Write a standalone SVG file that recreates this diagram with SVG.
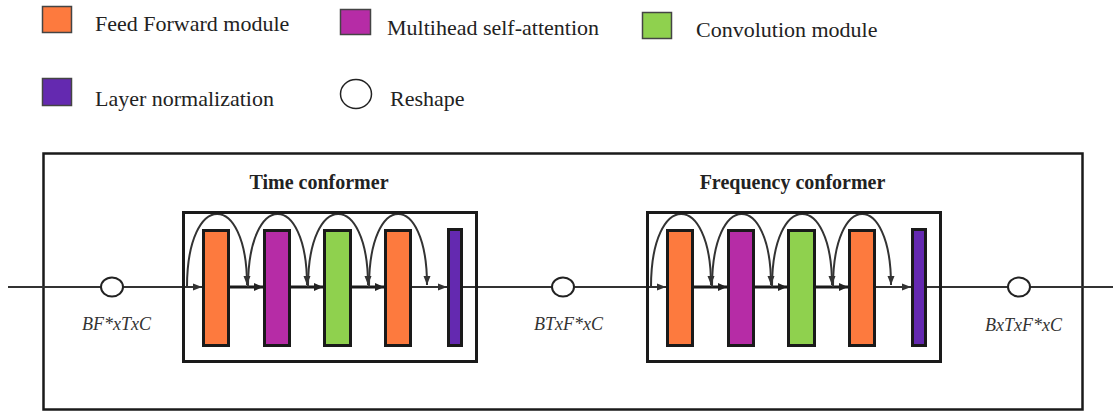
<svg xmlns="http://www.w3.org/2000/svg" width="1113" height="412" viewBox="0 0 1113 412">
  <style>
    .lg { font-family: "Liberation Serif", "Times New Roman", serif; font-size: 22px; fill: #222; }
    .ttl { font-family: "Liberation Serif", "Times New Roman", serif; font-size: 20px; font-weight: bold; fill: #222; text-anchor: middle; }
    .dim { font-family: "Liberation Serif", "Times New Roman", serif; font-size: 18px; font-style: italic; fill: #333; text-anchor: middle; }
    .sw { stroke: #444; stroke-width: 1.5; }
    .blk { stroke: #1a1a1a; stroke-width: 3; }
    .ff { fill: #FD7A3E; }
    .mh { fill: #B62CA6; }
    .cv { fill: #8FD14E; }
    .ln { fill: #6429B0; }
    .frame { fill: none; stroke: #1a1a1a; stroke-width: 3; }
    .rs { fill: #fff; stroke: #222; stroke-width: 2; }
    .main { fill: none; stroke: #333; stroke-width: 2; }
    .thick { fill: none; stroke: #1a1a1a; stroke-width: 3; }
    .arc { fill: none; stroke: #333; stroke-width: 2; }
  </style>
  <defs>
    <marker id="ah" markerUnits="userSpaceOnUse" markerWidth="10" markerHeight="8" refX="9" refY="4" orient="auto">
      <path d="M0,0 L9,4 L0,8 z" fill="#222"/>
    </marker>
    <marker id="ahs" markerUnits="userSpaceOnUse" markerWidth="10" markerHeight="8" refX="9" refY="4" orient="auto">
      <path d="M0,0.5 L9,4 L0,7.5 z" fill="#333"/>
    </marker>
  </defs>

  <!-- legend -->
  <g id="legend">
    <rect class="sw ff" x="42.5" y="6.5" width="29" height="26"/>
    <text class="lg" x="95" y="31">Feed Forward module</text>
    <rect class="sw mh" x="340.5" y="9.5" width="30" height="25"/>
    <text class="lg" x="387" y="35">Multihead self-attention</text>
    <rect class="sw cv" x="642.5" y="12.5" width="29" height="26"/>
    <text class="lg" x="696" y="37">Convolution module</text>
    <rect class="sw ln" x="42.5" y="78.5" width="29" height="27"/>
    <text class="lg" x="95" y="106">Layer normalization</text>
    <ellipse cx="356" cy="94" rx="15.5" ry="14.5" fill="#fff" stroke="#222" stroke-width="1.5"/>
    <text class="lg" x="390" y="106">Reshape</text>
  </g>

  <!-- outer frame -->
  <g id="outer">
    <rect x="43.5" y="153.5" width="1039" height="256" fill="none" stroke="#1a1a1a" stroke-width="2.5"/>
  </g>

  <!-- connectors -->
  <g id="connectors">
    <line class="main" x1="8" y1="287" x2="1113" y2="287"/>
    <!-- time conformer flow -->
    <line class="main" x1="182" y1="287" x2="202" y2="287" marker-end="url(#ahs)"/>
    <line class="thick" x1="230" y1="287" x2="263" y2="287" marker-end="url(#ah)"/>
    <line class="thick" x1="291" y1="287" x2="323" y2="287" marker-end="url(#ah)"/>
    <line class="thick" x1="352" y1="287" x2="384" y2="287" marker-end="url(#ah)"/>
    <line class="main" x1="412" y1="287" x2="447" y2="287" marker-end="url(#ahs)"/>
    <path class="arc" d="M187,287 C187,190 247,190 247,285" marker-end="url(#ahs)"/>
    <path class="arc" d="M248,287 C248,190 307,190 307,285" marker-end="url(#ahs)"/>
    <path class="arc" d="M308,287 C308,190 368,190 368,285" marker-end="url(#ahs)"/>
    <path class="arc" d="M369,287 C369,190 427,190 427,285" marker-end="url(#ahs)"/>
    <!-- frequency conformer flow -->
    <line class="main" x1="646" y1="287" x2="666" y2="287" marker-end="url(#ahs)"/>
    <line class="thick" x1="694" y1="287" x2="727" y2="287" marker-end="url(#ah)"/>
    <line class="thick" x1="755" y1="287" x2="787" y2="287" marker-end="url(#ah)"/>
    <line class="thick" x1="816" y1="287" x2="848" y2="287" marker-end="url(#ah)"/>
    <line class="main" x1="876" y1="287" x2="911" y2="287" marker-end="url(#ahs)"/>
    <path class="arc" d="M651,287 C651,190 711,190 711,285" marker-end="url(#ahs)"/>
    <path class="arc" d="M712,287 C712,190 771,190 771,285" marker-end="url(#ahs)"/>
    <path class="arc" d="M772,287 C772,190 832,190 832,285" marker-end="url(#ahs)"/>
    <path class="arc" d="M833,287 C833,190 891,190 891,285" marker-end="url(#ahs)"/>
  </g>

  <!-- reshape nodes -->
  <g id="reshape-in">
    <ellipse class="rs" cx="112" cy="287" rx="11" ry="9.5"/>
    <text class="dim" x="116.5" y="330">BF*xTxC</text>
  </g>
  <g id="reshape-mid">
    <ellipse class="rs" cx="563" cy="287" rx="11" ry="9.5"/>
    <text class="dim" x="568.5" y="330">BTxF*xC</text>
  </g>
  <g id="reshape-out">
    <ellipse class="rs" cx="1019" cy="287" rx="11" ry="9.5"/>
    <text class="dim" x="1023.5" y="331">BxTxF*xC</text>
  </g>

  <!-- time conformer -->
  <g id="time-conformer">
    <text class="ttl" x="319" y="189">Time conformer</text>
    <rect class="frame" x="183.5" y="212.5" width="293" height="149"/>
    <rect class="blk ff" x="203.5" y="230.5" width="25" height="115"/>
    <rect class="blk mh" x="264.5" y="230.5" width="25" height="115"/>
    <rect class="blk cv" x="324.5" y="230.5" width="26" height="115"/>
    <rect class="blk ff" x="385.5" y="230.5" width="25" height="115"/>
    <rect class="blk ln" x="448.5" y="229.5" width="13" height="116"/>
  </g>

  <!-- frequency conformer -->
  <g id="frequency-conformer">
    <text class="ttl" x="792.5" y="189">Frequency conformer</text>
    <rect class="frame" x="647.5" y="212.5" width="293" height="149"/>
    <rect class="blk ff" x="667.5" y="230.5" width="25" height="115"/>
    <rect class="blk mh" x="728.5" y="230.5" width="25" height="115"/>
    <rect class="blk cv" x="788.5" y="230.5" width="26" height="115"/>
    <rect class="blk ff" x="849.5" y="230.5" width="25" height="115"/>
    <rect class="blk ln" x="912.5" y="229.5" width="13" height="116"/>
  </g>
</svg>
